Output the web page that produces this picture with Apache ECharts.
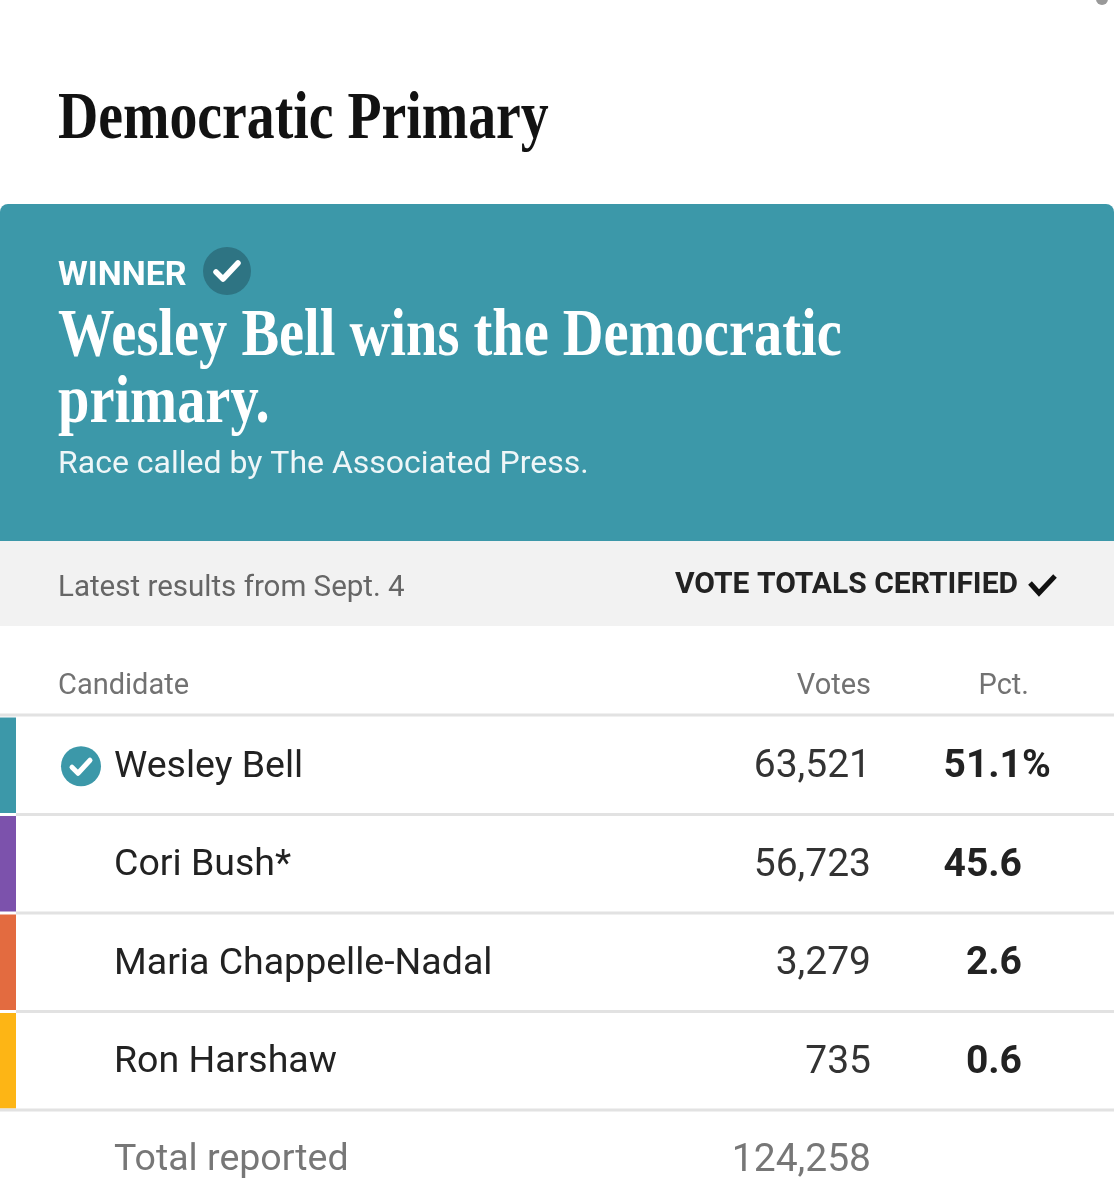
<!DOCTYPE html>
<html>
<head>
<meta charset="utf-8">
<script src="https://cdn.jsdelivr.net/npm/echarts@6/dist/echarts.min.js"></script>
<style>
  html, body { margin: 0; padding: 0; background: #fff; }
  #chart { width: 1114px; height: 1200px; }
</style>
</head>
<body>
<div id="chart"></div>
<script>
const candidates = ['Wesley Bell', 'Cori Bush*', 'Maria Chappelle-Nadal', 'Ron Harshaw'];
const votes = [63521, 56723, 3279, 735];
const pcts = [51.1, 45.6, 2.6, 0.6];
const totalVotes = 124258;
const winnerIndex = 0;

// styles
const barColors = ['#3c98a9', '#7c52ac', '#e36b40', '#fdb515'];
const teal = '#3c98a9';
const sans = 'Roboto, "Liberation Sans", sans-serif';
const serif = '"Liberation Serif", "DejaVu Serif", serif';

const fmt = v => v.toLocaleString('en-US');

const chart = echarts.init(document.getElementById('chart'));

function renderRow(params, api) {
  const idx = api.value(0);
  const center = api.coord([0, idx]);
  const bandH = api.size([0, 1])[1];
  const cy = center[1] + 2;
  const top = center[1] - bandH / 2;
  const bottom = center[1] + bandH / 2;
  const last = idx === candidates.length - 1;
  const children = [
    {
      type: 'rect',
      shape: { x: 0, y: top + 1.5, width: 16, height: bandH - 3 },
      style: { fill: barColors[idx] }
    },
    {
      type: 'line',
      shape: { x1: last ? 0 : 16, y1: bottom, x2: 1114, y2: bottom },
      style: { stroke: '#e2e2e2', lineWidth: 3 }
    },
    {
      type: 'text',
      x: 114, y: cy,
      style: { text: candidates[idx], font: '37.5px ' + sans, fill: '#222', textAlign: 'left', textVerticalAlign: 'middle' }
    },
    {
      type: 'text',
      x: 871, y: cy,
      style: { text: fmt(api.value(1)), font: '39px ' + sans, fill: '#333', textAlign: 'right', textVerticalAlign: 'middle' }
    },
    {
      type: 'text',
      x: 1022, y: cy,
      style: { text: api.value(2).toFixed(1), font: 'bold 39px ' + sans, fill: '#222', textAlign: 'right', textVerticalAlign: 'middle' }
    }
  ];
  if (idx === winnerIndex) {
    children.push(
      { type: 'text', x: 1022, y: cy,
        style: { text: '%', font: 'bold 39px ' + sans, fill: '#222', textAlign: 'left', textVerticalAlign: 'middle' } },
      { type: 'circle', shape: { cx: 81, cy: cy - 1, r: 20 }, style: { fill: teal } },
      { type: 'polyline', shape: { points: [[72, cy], [78, cy + 6], [90, cy - 7]] },
        style: { stroke: '#fff', lineWidth: 5, fill: null, lineCap: 'round', lineJoin: 'round' } }
    );
  }
  return { type: 'group', children: children };
}

chart.setOption({
  animation: false,
  grid: { top: 716, left: 0, right: 0, height: 394 },
  xAxis: { type: 'value', min: 0, max: 1114, show: false },
  yAxis: { type: 'category', data: candidates, inverse: true, show: false },
  series: [{
    type: 'custom',
    clip: false,
    renderItem: renderRow,
    data: candidates.map((c, i) => [i, votes[i], pcts[i]])
  }],
  graphic: [
    { type: 'circle', shape: { cx: 1102, cy: -1, r: 6 }, style: { fill: '#999' } },
    { type: 'text', x: 58, y: 120, scaleX: 0.82,
      style: { text: 'Democratic Primary', font: 'bold 68px ' + serif, fill: '#121212', textVerticalAlign: 'middle' } },
    // winner banner
    { type: 'rect', shape: { x: 0, y: 204, width: 1114, height: 337, r: [8, 8, 0, 0] }, style: { fill: teal } },
    { type: 'text', x: 58, y: 276,
      style: { text: 'WINNER', font: 'bold 34px ' + sans, fill: '#fff', textVerticalAlign: 'middle' } },
    { type: 'circle', shape: { cx: 227, cy: 271, r: 24 }, style: { fill: '#2e7483' } },
    { type: 'polyline', shape: { points: [[216, 272], [223, 279], [238, 263]] },
      style: { stroke: '#fff', lineWidth: 5.5, fill: null, lineCap: 'round', lineJoin: 'round' } },
    { type: 'text', x: 58, y: 337, scaleX: 0.83,
      style: { text: 'Wesley Bell wins the Democratic', font: 'bold 68px ' + serif, fill: '#fff', textVerticalAlign: 'middle' } },
    { type: 'text', x: 58, y: 404, scaleX: 0.83,
      style: { text: 'primary.', font: 'bold 68px ' + serif, fill: '#fff', textVerticalAlign: 'middle' } },
    { type: 'text', x: 58, y: 465,
      style: { text: 'Race called by The Associated Press.', font: '32px ' + sans, fill: '#eef6f8', textVerticalAlign: 'middle' } },
    // status strip
    { type: 'rect', shape: { x: 0, y: 541, width: 1114, height: 85 }, style: { fill: '#f2f2f2' } },
    { type: 'text', x: 58, y: 589,
      style: { text: 'Latest results from Sept. 4', font: '29.5px ' + sans, fill: '#666', textVerticalAlign: 'middle' } },
    { type: 'text', x: 1018, y: 585,
      style: { text: 'VOTE TOTALS CERTIFIED', font: 'bold 30px ' + sans, fill: '#222', textAlign: 'right', textVerticalAlign: 'middle' } },
    { type: 'polyline', shape: { points: [[1030, 583], [1039, 593], [1055, 576]] },
      style: { stroke: '#111', lineWidth: 5, fill: null, lineJoin: 'miter' } },
    // column headers
    { type: 'text', x: 58, y: 687,
      style: { text: 'Candidate', font: '29px ' + sans, fill: '#727272', textVerticalAlign: 'middle' } },
    { type: 'text', x: 871, y: 687,
      style: { text: 'Votes', font: '29px ' + sans, fill: '#727272', textAlign: 'right', textVerticalAlign: 'middle' } },
    { type: 'text', x: 1029, y: 687,
      style: { text: 'Pct.', font: '29px ' + sans, fill: '#727272', textAlign: 'right', textVerticalAlign: 'middle' } },
    { type: 'line', shape: { x1: 0, y1: 715, x2: 1114, y2: 715 }, style: { stroke: '#e2e2e2', lineWidth: 3 } },
    // total row
    { type: 'text', x: 114, y: 1161,
      style: { text: 'Total reported', font: '37.5px ' + sans, fill: '#777', textVerticalAlign: 'middle' } },
    { type: 'text', x: 871, y: 1161,
      style: { text: fmt(totalVotes), font: '39px ' + sans, fill: '#777', textAlign: 'right', textVerticalAlign: 'middle' } }
  ]
});
</script>
</body>
</html>
